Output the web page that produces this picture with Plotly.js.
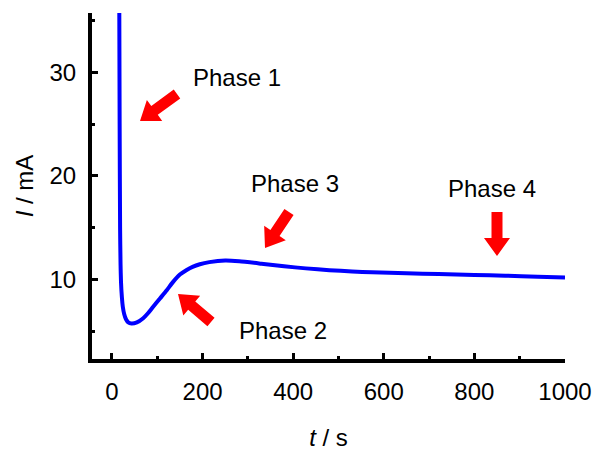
<!DOCTYPE html>
<html>
<head>
<meta charset="utf-8">
<script src="https://cdn.plot.ly/plotly-3.0.1.min.js"></script>
<style>html,body{margin:0;padding:0;background:#fff;}#chart{width:592px;height:453px;}</style>
</head>
<body>
<div id="chart"></div>
<script>
// Data
var timeS = [15, 16, 17, 18, 19, 20, 22, 24, 27, 31, 36, 43, 55, 69, 80, 91, 106, 121, 135, 150, 165, 178, 194, 215, 250, 281, 330, 380, 428, 480, 530, 574, 650, 721, 800, 868, 940, 1000];
var currentMA = [55, 40, 25, 15, 11.5, 9.8, 8.3, 7.4, 6.7, 6.2, 5.9, 5.8, 5.9, 6.3, 6.8, 7.4, 8.2, 9.0, 9.8, 10.5, 10.95, 11.25, 11.5, 11.7, 11.85, 11.78, 11.55, 11.3, 11.1, 10.93, 10.8, 10.72, 10.62, 10.55, 10.47, 10.4, 10.3, 10.22];
var phaseLabels = ["Phase 1", "Phase 2", "Phase 3", "Phase 4"];

// Layout geometry (pixels)
var W = 592, H = 453;
var M = {l: 92, r: 27, t: 13, b: 94};
var PW = W - M.l - M.r, PH = H - M.t - M.b;
function px2paperX(px) { return (px - M.l) / PW; }
function px2paperY(py) { return (H - M.b - py) / PH; }

// Arrow decorations (pixel geometry): tail -> tip
var arrowGeom = [
  {tail: [177, 94], tip: [140, 121]},
  {tail: [211, 322], tip: [178, 294]},
  {tail: [289, 212], tip: [265, 248]},
  {tail: [497, 212], tip: [497, 256]}
];
var labelPos = [[191, 77], [237, 330], [249, 183], [446, 188]];

function arrowPath(g, shaftW, headW, headL) {
  var dx = g.tip[0] - g.tail[0], dy = g.tip[1] - g.tail[1];
  var len = Math.sqrt(dx * dx + dy * dy);
  var ux = dx / len, uy = dy / len;
  var nx = -uy, ny = ux;
  var bx = g.tip[0] - ux * headL, by = g.tip[1] - uy * headL;
  var pts = [
    [g.tail[0] + nx * shaftW / 2, g.tail[1] + ny * shaftW / 2],
    [bx + nx * shaftW / 2, by + ny * shaftW / 2],
    [bx + nx * headW / 2, by + ny * headW / 2],
    [g.tip[0], g.tip[1]],
    [bx - nx * headW / 2, by - ny * headW / 2],
    [bx - nx * shaftW / 2, by - ny * shaftW / 2],
    [g.tail[0] - nx * shaftW / 2, g.tail[1] - ny * shaftW / 2]
  ];
  return 'M' + pts.map(function (p) {
    return px2paperX(p[0]).toFixed(5) + ',' + px2paperY(p[1]).toFixed(5);
  }).join(' L') + ' Z';
}

var shapes = arrowGeom.map(function (g) {
  return {
    type: 'path', xref: 'paper', yref: 'paper',
    path: arrowPath(g, 11, 26, 18),
    fillcolor: '#ff0000', line: {width: 0}
  };
});

var annotations = phaseLabels.map(function (t, i) {
  return {
    text: t, xref: 'paper', yref: 'paper',
    x: px2paperX(labelPos[i][0]), y: px2paperY(labelPos[i][1]),
    xanchor: 'left', yanchor: 'middle', showarrow: false,
    font: {family: 'Liberation Sans, Arial, sans-serif', size: 24, color: '#000'}
  };
});

var trace = {
  x: timeS, y: currentMA, type: 'scatter', mode: 'lines',
  line: {color: '#0000ff', width: 4, shape: 'spline', smoothing: 0.6},
  hoverinfo: 'skip'
};

var axisFont = {family: 'Liberation Sans, Arial, sans-serif', size: 24, color: '#000'};

var layout = {
  width: W, height: H,
  margin: M,
  paper_bgcolor: '#fff', plot_bgcolor: '#fff',
  showlegend: false,
  font: axisFont,
  xaxis: {
    range: [-44, 1000], showgrid: false, zeroline: false,
    showline: true, linecolor: '#000', linewidth: 4,
    ticks: 'inside', ticklen: 6, tickwidth: 3, tickcolor: '#000',
    tick0: 0, dtick: 200, ticklabelstandoff: 8,
    minor: {ticks: 'inside', ticklen: 3, tickwidth: 3, tickcolor: '#000', dtick: 100, tick0: 0, showgrid: false},
    tickfont: axisFont,
    title: {text: '<i>t</i> / s', font: axisFont, standoff: 26}
  },
  yaxis: {
    range: [2.37, 35.7], showgrid: false, zeroline: false,
    showline: true, linecolor: '#000', linewidth: 4,
    ticks: 'inside', ticklen: 6, tickwidth: 3, tickcolor: '#000',
    tick0: 0, dtick: 10, ticklabelstandoff: 7,
    minor: {ticks: 'inside', ticklen: 3, tickwidth: 3, tickcolor: '#000', dtick: 5, tick0: 0, showgrid: false},
    tickfont: axisFont,
    title: {text: '<i>I</i> / mA', font: axisFont, standoff: 10}
  },
  shapes: shapes,
  annotations: annotations
};

Plotly.newPlot('chart', [trace], layout, {displayModeBar: false, staticPlot: true});
</script>
</body>
</html>
